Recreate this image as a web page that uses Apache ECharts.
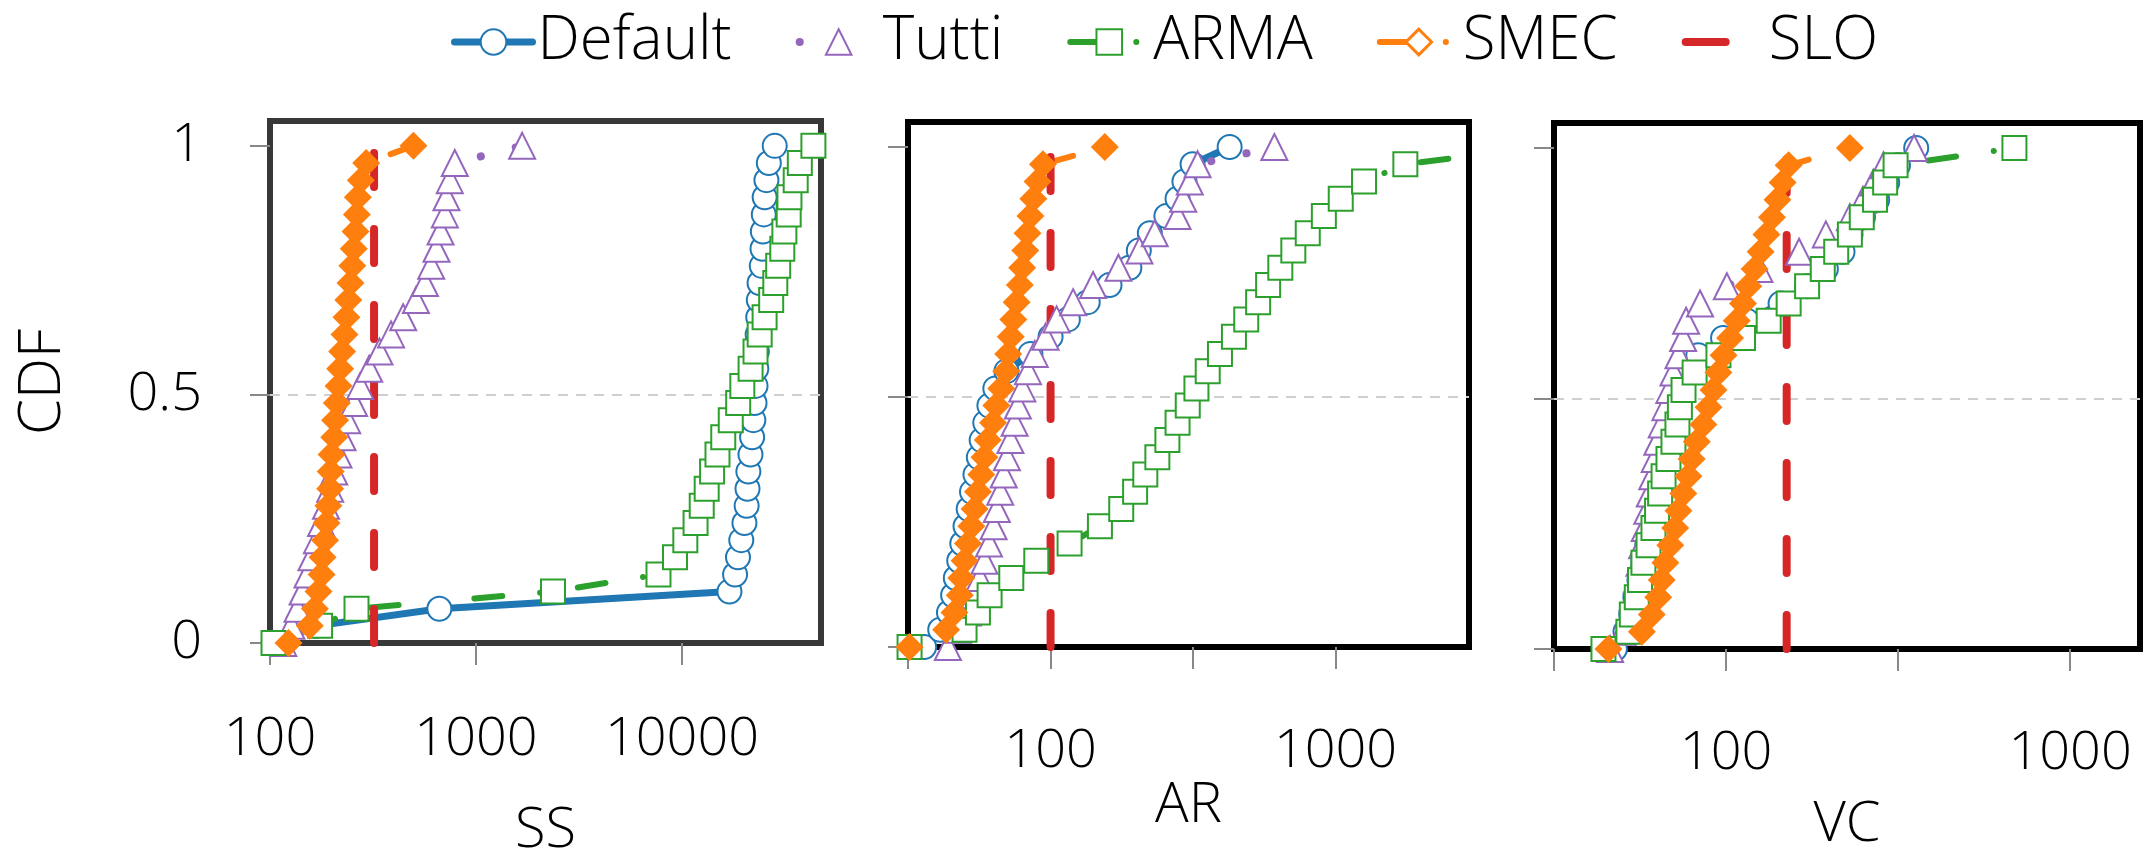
<!DOCTYPE html>
<html>
<head>
<meta charset="utf-8">
<script src="https://cdn.jsdelivr.net/npm/echarts@6.0.0/dist/echarts.min.js"></script>
<style>
  html, body { margin: 0; padding: 0; background: #fff; }
  #CdfChart { width: 2147px; height: 856px; }
</style>
</head>
<body>
<div id="CdfChart"></div>
<script>
// CDF level of the i-th sorted sample (30 samples)
var cdfLevels = [0, 0.0345, 0.069, 0.1034, 0.1379, 0.1724, 0.2069, 0.2414, 0.2759, 0.3103,
    0.3448, 0.3793, 0.4138, 0.4483, 0.4828, 0.5172, 0.5517, 0.5862, 0.6207, 0.6552,
    0.6897, 0.7241, 0.7586, 0.7931, 0.8276, 0.8621, 0.8966, 0.931, 0.9655, 1];

var seriesNames = ['Default', 'Tutti', 'ARMA', 'SMEC', 'SLO'];
var panelNames = ['SS', 'AR', 'VC'];

// SS
var ssDefault = [106, 168, 664, 17000, 18100, 18700, 19400, 20100, 20600, 20800,
    21000, 21500, 21900, 22200, 22500, 22750, 22950, 23100, 23300, 23450,
    23600, 23800, 24400, 24600, 24700, 24950, 25200, 25700, 26400, 28200];
var ssTutti = [116, 127, 136, 144, 152, 159, 169, 177, 187, 196,
    205, 215, 225, 237, 256, 274, 303, 340, 387, 443,
    511, 565, 606, 643, 673, 706, 719, 746, 789, 1675];
var ssArma = [104, 175, 263, 2365, 7690, 9250, 10380, 11640, 12470, 13180,
    14000, 14870, 15860, 17250, 18740, 19630, 21530, 22750, 23830, 25180,
    27100, 28380, 29310, 30690, 31410, 32960, 33240, 35650, 37330, 43450];
var ssSmec = [123, 156, 165, 172, 178, 180, 185, 188, 192, 196,
    197, 199, 205, 207, 211, 215, 219, 224, 230, 235,
    240, 246, 251, 255, 260, 264, 267, 276, 293, 497];
var ssSlo = 320;

// AR
var arDefault = [36, 41, 44, 45.5, 46.5, 47.8, 49, 50.3, 51.6, 53,
    54.5, 56, 57.3, 59, 61, 64, 70, 85, 100, 115,
    135, 161, 189, 204, 223, 255, 279, 295, 315, 425];
var arTutti = [43.6, 47.3, 51.3, 54.1, 56.4, 58.6, 60.8, 63.1, 64.8, 66.6,
    68.5, 70.3, 72.3, 74.8, 76.8, 79.6, 83.3, 88, 96, 105,
    120, 141, 173, 205, 232, 279, 292, 308, 328, 610];
var arArma = [32, 49.9, 55.6, 61.1, 72.8, 89.1, 116.6, 149, 177, 198,
    215, 237, 257, 279, 303, 325, 356, 393, 440, 486,
    535, 580, 640, 711, 799, 910, 1043, 1259, 1758, 5200];
var arSmec = [32, 43, 46, 48, 48.6, 49.9, 51.3, 52.7, 54.1, 55.6,
    57.1, 58.6, 60.2, 62.8, 64.5, 67.1, 69.9, 71, 72.5, 74,
    76, 78, 79.5, 81.5, 83, 85, 87, 90, 94, 155];
var arSlo = 100;

// VC
var vcDefault = [47.5, 51, 53, 54.5, 56, 57.5, 59, 61, 62.5, 64,
    65.5, 67.5, 69.5, 71.5, 73, 75, 78, 83, 98, 115,
    144, 172, 195, 218, 230, 250, 275, 294, 316, 357];
var vcTutti = [46, 50, 52, 53.5, 55, 56, 57, 58, 59, 60,
    61, 62, 63.1, 65, 66.6, 68.4, 70.3, 72.7, 75, 76.5,
    84, 100.5, 125, 163, 195, 229, 250, 268, 287, 352];
var vcArma = [44, 52, 53.2, 55, 56.2, 57.5, 59.5, 61.5, 63, 64.3,
    65.8, 68, 70.3, 72.2, 73.4, 75.2, 81, 95, 112, 133,
    152, 172, 191, 209, 229, 248, 271, 290, 311, 689];
var vcSmec = [45.5, 56.9, 60.8, 63.5, 65, 66.6, 68.8, 71.1, 72.7, 75.1,
    77.7, 79.4, 82.2, 85.9, 88.9, 91.9, 95, 98.3, 102.7, 107.4,
    112, 116, 121, 126, 131, 136, 141, 146, 152, 229];
var vcSlo = 150;

// axis ranges and ticks
var xMins = [100, 31.6, 31.6];
var xMaxs = [47300, 2940, 1597];
var xTicks = [[100, 1000, 10000], [31.62, 100, 316.2, 1000], [31.62, 100, 316.2, 1000]];
var xLabels = [[100, 1000, 10000], [100, 1000], [100, 1000]];
var yTicks = [0, 0.5, 1];
var yMax = 1.05;

var panelData = [
    [ssDefault, ssTutti, ssArma, ssSmec, ssSlo],
    [arDefault, arTutti, arArma, arSmec, arSlo],
    [vcDefault, vcTutti, vcArma, vcSmec, vcSlo]
];

var MyChart = echarts.init(document.getElementById('CdfChart'));

var fontName = 'Open Sans';
var fontW = 300;
var grids = [
    {left: 270, top: 121, width: 551, height: 522, borderColor: '#383838'},
    {left: 908, top: 122, width: 561, height: 525, borderColor: '#000'},
    {left: 1554, top: 123, width: 586, height: 526, borderColor: '#000'}
];
var labelMargins = [70, 78, 78];
var nameGaps = [160, 131, 148];

var looks = {
    Default: {color: '#1f77b4', symbol: 'emptyCircle', size: 24, width: 7, type: 'solid'},
    Tutti: {color: '#9467bd', symbol: 'emptyTriangle', size: 26, width: 8, type: [0.1, 36]},
    ARMA: {color: '#2ca02c', symbol: 'emptyRect', size: 24, width: 6, type: [28, 38, 0.1, 38]},
    SMEC: {color: '#ff7f0e', symbol: 'diamond', size: 28, width: 6, type: [28, 38, 0.1, 38]},
    SLO: {color: '#d62728', symbol: 'none', size: 0, width: 8, type: [34, 42]}
};

function pairs(xs) {
    return xs.map(function (x, i) { return [x, cdfLevels[i]]; });
}

var series = [];
panelData.forEach(function (panel, p) {
    seriesNames.forEach(function (name, k) {
        var look = looks[name];
        var data = name === 'SLO' ? [[panel[k], 0], [panel[k], yMax]] : pairs(panel[k]);
        series.push({
            name: name,
            type: 'line',
            xAxisIndex: p,
            yAxisIndex: p,
            data: data,
            symbol: look.symbol,
            symbolSize: look.size,
            showSymbol: look.symbol !== 'none',
            itemStyle: {color: look.color, borderWidth: look.symbol === 'diamond' ? 0 : 3.5},
            lineStyle: {color: look.color, width: look.width, type: look.type, cap: 'round'},
            emphasis: {disabled: true},
            animation: false
        });
    });
});

var xAxes = panelNames.map(function (n, p) {
    return {
        type: 'log',
        logBase: 10,
        gridIndex: p,
        min: xMins[p],
        max: xMaxs[p],
        name: n,
        nameLocation: 'middle',
        nameGap: nameGaps[p],
        nameMoveOverlap: false,
        nameTextStyle: {fontSize: 56, color: '#000', fontFamily: fontName, fontWeight: fontW},
        axisLine: {show: false},
        axisTick: {show: true, customValues: xTicks[p], length: 22, lineStyle: {color: '#888', width: 2}},
        axisLabel: {
            customValues: xLabels[p],
            margin: labelMargins[p],
            fontSize: 54,
            color: '#000',
            fontFamily: fontName,
            fontWeight: fontW,
            formatter: function (v) { return String(Math.round(v)); }
        },
        splitLine: {show: false},
        minorTick: {show: false}
    };
});

var yAxes = panelNames.map(function (n, p) {
    return {
        type: 'value',
        gridIndex: p,
        min: 0,
        max: yMax,
        interval: 0.5,
        name: p === 0 ? 'CDF' : '',
        nameLocation: 'middle',
        nameGap: 198,
        nameTextStyle: {fontSize: 58, color: '#000', fontFamily: fontName, fontWeight: fontW},
        axisLine: {show: false},
        axisTick: {show: true, customValues: yTicks, length: 20, lineStyle: {color: '#888', width: 2}},
        axisLabel: {
            show: p === 0,
            customValues: yTicks,
            margin: 68,
            fontSize: 54,
            color: '#000',
            fontFamily: fontName,
            fontWeight: fontW
        },
        splitLine: {
            show: true,
            showMinLine: false,
            showMaxLine: false,
            lineStyle: {color: '#cfcfcf', width: 2, type: [10, 8]}
        }
    };
});

var legendData = seriesNames.map(function (name) {
    var look = looks[name];
    var item = {name: name, lineStyle: {width: look.width}};
    if (name === 'Tutti') {
        item.lineStyle.type = [0.1, 200];
    }
    if (name === 'SMEC') {
        item.itemStyle = {color: '#fff', borderColor: look.color, borderWidth: 3};
    }
    if (name === 'SLO') {
        item.itemStyle = {opacity: 0};
        item.lineStyle.type = [40, 200];
    }
    return item;
});

option = {
    backgroundColor: '#fff',
    textStyle: {fontFamily: fontName},
    animation: false,
    legend: {
        data: legendData,
        top: 7,
        left: 446,
        itemWidth: 78,
        itemHeight: 32,
        itemGap: 64,
        selectedMode: false,
        textStyle: {fontSize: 60, color: '#000', fontFamily: fontName, fontWeight: fontW}
    },
    grid: grids.map(function (g) {
        return {
            left: g.left, top: g.top, width: g.width, height: g.height,
            show: true, borderColor: g.borderColor, borderWidth: 6,
            backgroundColor: 'transparent',
            outerBoundsMode: 'none'
        };
    }),
    xAxis: xAxes,
    yAxis: yAxes,
    series: series
};
MyChart.setOption(option);
</script>
</body>
</html>
